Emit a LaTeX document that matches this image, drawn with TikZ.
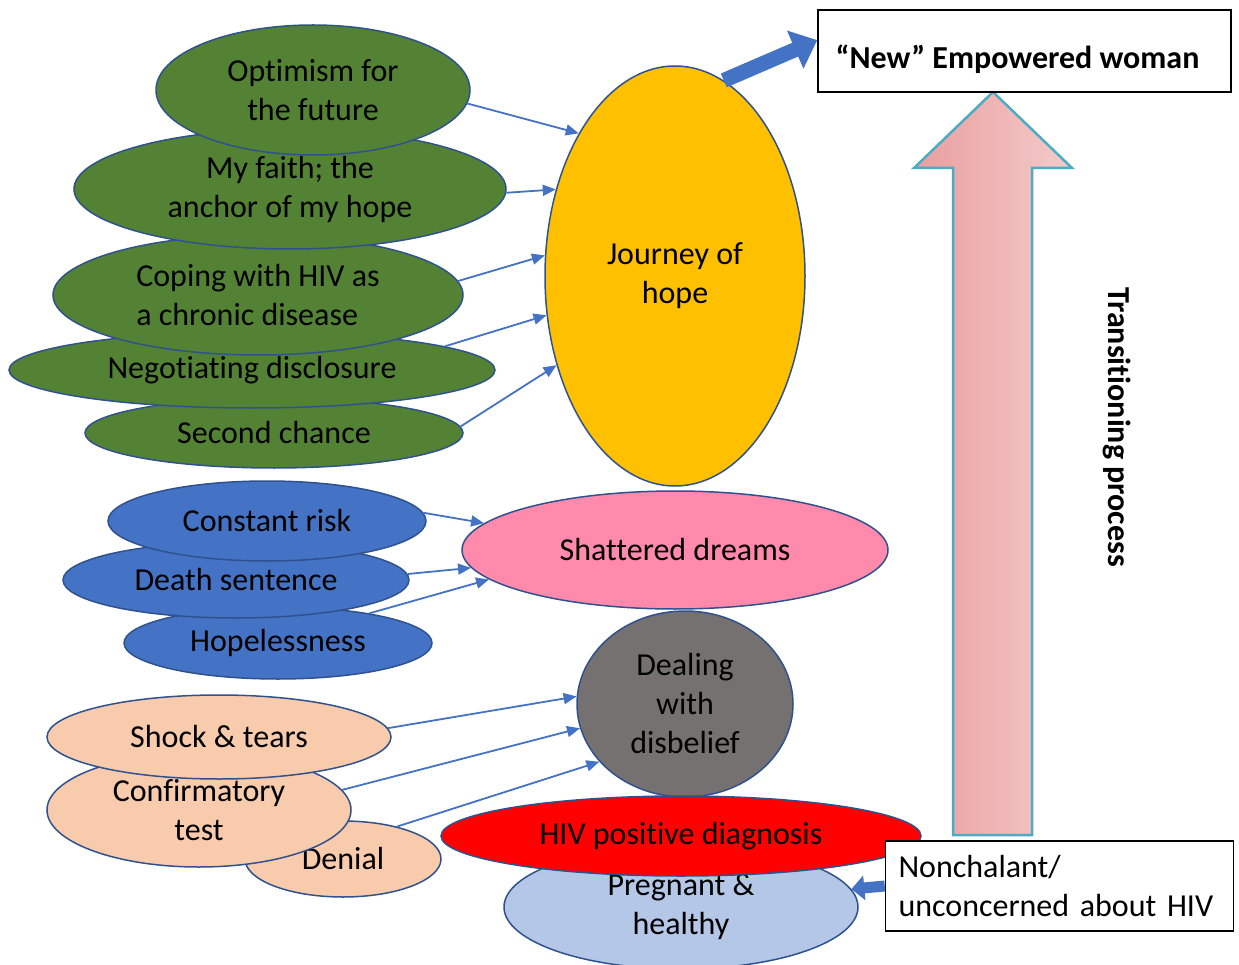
\documentclass[tikz,border=0pt]{standalone}
\usepackage{fontspec}
\setmainfont{Carlito}[Ligatures=NoCommon]
\usetikzlibrary{shapes.geometric, arrows.meta}

\definecolor{leafgreen}{HTML}{548235}
\definecolor{edgeblue}{HTML}{2F528F}
\definecolor{midblue}{HTML}{4472C4}
\definecolor{peach}{HTML}{F8CBAD}
\definecolor{amber}{HTML}{FFC000}
\definecolor{rosepink}{HTML}{FF8AAB}
\definecolor{stone}{HTML}{767171}
\definecolor{paleblue}{HTML}{B4C7E7}
\definecolor{skyedge}{HTML}{4BACC6}
\definecolor{blushdark}{HTML}{E99E9E}
\definecolor{blushlight}{HTML}{F4CBCB}

\tikzset{
  bubble/.style={ellipse, draw=edgeblue, line width=1.5pt, inner sep=0pt, align=center},
  greenbubble/.style={bubble, fill=leafgreen},
  bluebubble/.style={bubble, fill=midblue},
  peachbubble/.style={bubble, fill=peach},
  feed/.style={draw=midblue, line width=1.8pt, -{Triangle[length=13pt,width=11pt]}},
  bigpush/.style={draw=midblue, line width=15pt, -{Triangle[length=24pt,width=40pt]}},
  smallpush/.style={draw=midblue, line width=11pt, -{Triangle[length=13pt,width=24pt]}},
  labelbox/.style={draw, line width=1.5pt, fill=white, inner sep=0pt}
}

\begin{document}
\begin{tikzpicture}[x=1pt, y=-1pt, font=\fontsize{32pt}{39pt}\selectfont]
    \useasboundingbox (0,0) rectangle (1239,965);

    % Transitioning arrow
    \path[draw=skyedge, line width=2.5pt, left color=blushdark, right color=blushlight]
        (953,835) -- (953,168) -- (914,168) -- (993,92) -- (1072,168) -- (1032,168) -- (1032,835) -- cycle;
    \node[rotate=-90, font=\fontsize{32pt}{39pt}\selectfont\bfseries] (trans) at (1117,427) {Transitioning process};

    % Journey of hope group
    \node[greenbubble, minimum width=378pt, minimum height=70pt] (second) at (274,433) {Second chance};
    \node[greenbubble, minimum width=486pt, minimum height=76pt] (disclose) at (252,370) {Negotiating disclosure};
    \node[greenbubble, minimum width=410pt, minimum height=120pt, align=left] (coping) at (258,295) {Coping with HIV as\\a chronic disease};
    \node[greenbubble, minimum width=432pt, minimum height=120pt] (faith) at (290,189) {My faith; the\\anchor of my hope};
    \node[greenbubble, minimum width=314pt, minimum height=130pt] (optimism) at (313,90) {Optimism for\\the future};

    % Shattered dreams group
    \node[bluebubble, minimum width=308pt, minimum height=72pt] (hopeless) at (278,643) {Hopelessness};
    \node[bluebubble, minimum width=346pt, minimum height=76pt] (death) at (236,580) {Death sentence};
    \node[bluebubble, minimum width=318pt, minimum height=80pt] (risk) at (267,521) {Constant risk};

    % Disbelief group
    \node[peachbubble, minimum width=196pt, minimum height=76pt] (denial) at (343,859) {Denial};
    \node[peachbubble, minimum width=304pt, minimum height=114pt] (confirm) at (199,810) {Confirmatory\\test};
    \node[peachbubble, minimum width=344pt, minimum height=84pt] (shock) at (219,737) {Shock \& tears};

    % Central stages
    \node[bubble, fill=amber, minimum width=260pt, minimum height=420pt] (hope) at (675,276) {Journey of\\hope};
    \node[bubble, fill=rosepink, minimum width=426pt, minimum height=118pt] (shattered) at (675,550) {Shattered dreams};
    \node[bubble, fill=stone, minimum width=216pt, minimum height=186pt] (disbelief) at (685,704) {Dealing\\with\\disbelief};
    \node[bubble, fill=paleblue, minimum width=354pt, minimum height=124pt] (healthy) at (681,907) {Pregnant \&\\healthy};
    \node[bubble, fill=red, minimum width=480pt, minimum height=80pt] (diagnosis) at (681,836) {HIV positive diagnosis};

    % Boxes
    \node[labelbox, minimum width=413pt, minimum height=82pt, text height=43pt, text depth=7pt, font=\fontsize{32pt}{39pt}\selectfont\bfseries] (empowered) at (1024.5,51) {\hspace*{-14pt}“New” Empowered woman};
    \node[labelbox, text width=322pt, inner xsep=13pt, minimum height=90pt, align=left] (nonchalant) at (1059.5,886) {Nonchalant/\\unconcerned about HIV};

    % Links
    \draw[feed] (optimism.-5) -- (hope.124);
    \draw[feed] (faith.-1) -- (hope.144);
    \draw[feed] (coping.4) -- (hope.171);
    \draw[feed] (disclose.7) -- (hope.197);
    \draw[feed] (second.2) -- (hope.217);
    \draw[feed] (risk.3) -- (shattered.172);
    \draw[feed] (death.2) -- (shattered.185);
    \draw[feed] (hopeless.18) -- (shattered.189);
    \draw[feed] (shock.3) -- (disbelief.176);
    \draw[feed] (confirm.8) -- (disbelief.193);
    \draw[feed] (denial.31) -- (disbelief.214);

    % Block arrows
    \draw[bigpush] (hope.76) -- (empowered.177);
    \draw[smallpush] (nonchalant.west) -- (healthy.6);
\end{tikzpicture}
\end{document}
